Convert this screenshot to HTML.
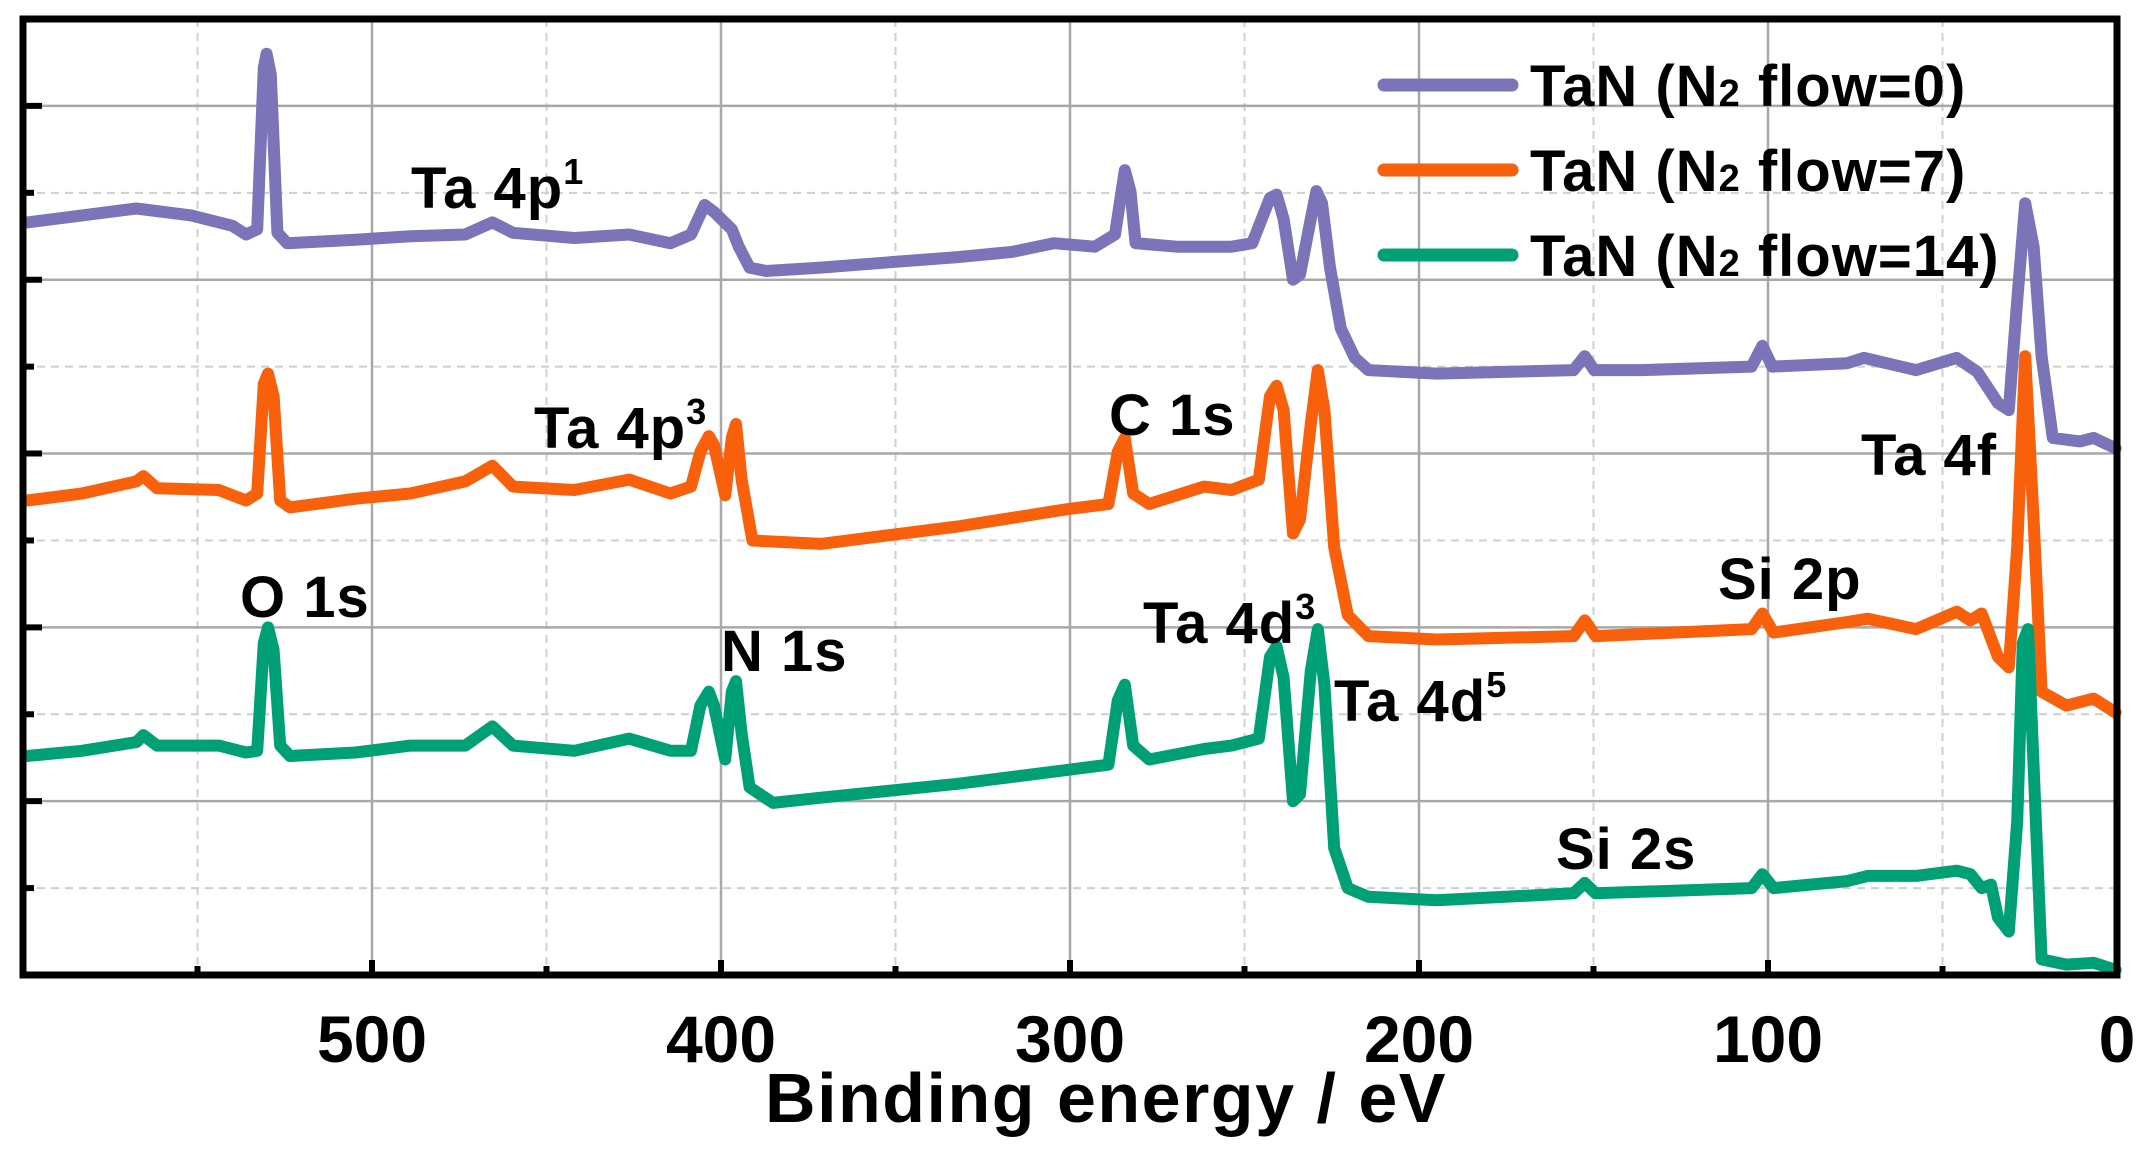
<!DOCTYPE html>
<html><head><meta charset="utf-8"><style>
html,body{margin:0;padding:0;background:#fff;}
svg{display:block;font-family:"Liberation Sans",Arial,sans-serif;font-weight:bold;}
</style></head><body>
<svg id="chart" width="2146" height="1157" viewBox="0 0 2146 1157" xmlns="http://www.w3.org/2000/svg">
<g id="grid"></g>
<g id="series"></g>
<g id="ticks"></g>
<rect x="23" y="19" width="2094" height="956" fill="none" stroke="#000" stroke-width="7"/>
<g id="annot" font-size="58" fill="#000" letter-spacing="1">
<text x="411" y="208">Ta 4p<tspan font-size="36" dy="-24">1</tspan></text>
<text x="534" y="448">Ta 4p<tspan font-size="36" dy="-24">3</tspan></text>
<text x="240" y="617">O 1s</text>
<text x="721" y="671">N 1s</text>
<text x="1109" y="435">C 1s</text>
<text x="1143" y="643">Ta 4d<tspan font-size="36" dy="-24">3</tspan></text>
<text x="1334" y="721">Ta 4d<tspan font-size="36" dy="-24">5</tspan></text>
<text x="1718" y="599">Si 2p</text>
<text x="1556" y="869">Si 2s</text>
<text x="1861" y="475">Ta 4f</text>
</g>
<g id="legend" font-size="58" letter-spacing="1"></g>
<text x="1106" y="1122" font-size="70" letter-spacing="1.5" text-anchor="middle">Binding energy / eV</text>
</svg>
<script>
const xTicks=[500,400,300,200,100,0];
const xMinor=[550,450,350,250,150,50];
const yMajor=[1,2,3,4,5];
const yMinor=[0.5,1.5,2.5,3.5,4.5];
const seriesNames=["TaN (N2 flow=0)","TaN (N2 flow=7)","TaN (N2 flow=14)"];
const e0=[598.8,583.1,567.5,551.8,540.0,536.1,532.9,531.0,530.2,529.0,527.1,524.3,504.7,489.0,473.3,465.5,459.6,442.0,426.3,414.5,408.6,404.7,402.0,396.9,394.9,391.8,387.1,371.4,351.8,332.2,316.5,304.7,292.9,287.1,284.3,282.7,281.2,269.4,253.7,247.8,242.7,240.8,238.8,236.1,234.1,231.0,229.4,227.8,225.5,222.4,218.4,214.5,194.9,175.3,155.7,152.5,149.8,136.1,104.7,101.6,98.8,77.3,72.5,57.6,45.9,40.0,34.1,31.0,28.6,26.3,23.9,21.6,18.4,10.6,6.7,0.4];
const v0=[4.33,4.37,4.41,4.37,4.31,4.26,4.29,5.22,5.30,5.18,4.27,4.21,4.23,4.25,4.26,4.33,4.27,4.24,4.26,4.21,4.26,4.43,4.39,4.29,4.19,4.07,4.05,4.07,4.10,4.13,4.16,4.21,4.19,4.26,4.63,4.51,4.21,4.19,4.19,4.21,4.47,4.49,4.35,4.00,4.03,4.35,4.51,4.44,4.07,3.72,3.55,3.48,3.46,3.47,3.48,3.56,3.48,3.48,3.50,3.62,3.50,3.52,3.55,3.48,3.55,3.47,3.29,3.25,3.88,4.44,4.19,3.56,3.09,3.07,3.09,3.03];
const e7=[598.8,583.1,567.5,565.5,561.6,543.9,536.1,532.9,531.0,529.8,528.2,526.3,523.5,504.7,489.0,473.3,465.5,459.6,442.0,426.3,414.5,408.6,405.9,403.5,402.0,398.8,396.9,395.7,394.1,391.0,371.4,332.2,300.8,289.0,286.3,284.3,281.9,277.3,261.6,253.7,245.9,242.7,240.8,238.8,236.1,234.1,231.0,229.0,227.1,224.3,220.4,214.5,194.9,155.7,152.5,149.4,104.7,101.6,98.4,77.3,71.4,57.6,45.9,42.0,38.8,34.1,31.0,28.6,26.3,23.9,21.6,14.5,6.7,0.4];
const v7=[2.73,2.77,2.84,2.87,2.80,2.79,2.73,2.77,3.40,3.46,3.33,2.73,2.69,2.74,2.77,2.84,2.93,2.81,2.79,2.85,2.77,2.81,3.01,3.10,3.05,2.76,3.09,3.17,2.85,2.50,2.48,2.58,2.68,2.71,3.01,3.09,2.77,2.71,2.81,2.79,2.85,3.33,3.39,3.25,2.54,2.62,3.17,3.48,3.25,2.46,2.07,1.95,1.93,1.95,2.04,1.95,1.99,2.08,1.97,2.03,2.05,1.99,2.09,2.04,2.08,1.83,1.77,2.46,3.56,2.62,1.63,1.55,1.59,1.51];
const e14=[598.8,583.1,567.5,565.5,561.6,543.9,536.1,532.9,531.0,529.8,528.2,526.3,523.5,504.7,489.0,473.3,465.5,459.6,442.0,426.3,414.5,408.6,405.9,403.5,402.0,398.8,396.9,395.7,394.1,391.8,385.1,371.4,332.2,300.8,289.0,286.3,284.3,281.9,277.3,261.6,253.7,245.9,242.7,240.8,238.8,236.1,234.1,231.0,229.0,227.1,224.3,220.4,214.5,194.9,155.7,152.5,149.4,104.7,101.6,98.4,77.3,71.4,57.6,45.9,42.0,38.8,36.1,34.1,31.0,28.6,27.0,25.5,23.9,21.6,14.5,6.7,0.4];
const v14=[1.26,1.29,1.34,1.38,1.32,1.32,1.28,1.29,1.91,2.00,1.87,1.32,1.26,1.28,1.32,1.32,1.43,1.32,1.29,1.36,1.29,1.29,1.55,1.63,1.55,1.24,1.63,1.69,1.39,1.08,0.99,1.02,1.10,1.18,1.21,1.58,1.67,1.32,1.24,1.30,1.32,1.36,1.83,1.89,1.71,1.00,1.04,1.75,1.99,1.67,0.73,0.50,0.45,0.43,0.47,0.53,0.47,0.50,0.58,0.50,0.54,0.57,0.57,0.60,0.58,0.50,0.52,0.33,0.25,0.88,1.91,1.99,1.20,0.09,0.06,0.07,0.03];
const colors=["#7b74b8","#f8600c","#00a077"];

const NS="http://www.w3.org/2000/svg";
const L=23,R=2117,T=19,B=975,XMAX=600,YMAX=5.5;
function xs(e){return R-(e/XMAX)*(R-L);}
function ys(v){return B-(v/YMAX)*(B-T);}
function mk(tag,attrs,parent){const el=document.createElementNS(NS,tag);for(const k in attrs)el.setAttribute(k,attrs[k]);parent.appendChild(el);return el;}
const grid=document.getElementById('grid'),ticks=document.getElementById('ticks'),ser=document.getElementById('series'),leg=document.getElementById('legend');

xTicks.forEach(t=>{const x=xs(t);
 if(t>0&&t<600){const g=mk('line',{x1:x,x2:x,y1:T,y2:B,stroke:'#a8a8a8','stroke-width':2.5},grid);
 
 }
 const tk=mk('line',{x1:x,x2:x,y1:B,y2:B-15,stroke:'#000','stroke-width':6},ticks);
 
 
 const lb=mk('text',{x:x,y:1062,'font-size':66,'text-anchor':'middle'},ticks);
 lb.textContent=t;
 
 
});
xMinor.forEach(t=>{const x=xs(t);
 const g=mk('line',{x1:x,x2:x,y1:T,y2:B,stroke:'#cfcfcf','stroke-width':2,'stroke-dasharray':'8,6'},grid);
 
 
 const tk=mk('line',{x1:x,x2:x,y1:B,y2:B-9,stroke:'#000','stroke-width':6},ticks);
 
 
});
yMajor.forEach(t=>{const y=ys(t);
 const g=mk('line',{x1:L,x2:R,y1:y,y2:y,stroke:'#a8a8a8','stroke-width':2.5},grid);
 
 
 const tk=mk('line',{x1:L,x2:L+19,y1:y,y2:y,stroke:'#000','stroke-width':6},ticks);
 
 
});
yMinor.forEach(t=>{const y=ys(t);
 const g=mk('line',{x1:L,x2:R,y1:y,y2:y,stroke:'#cfcfcf','stroke-width':2,'stroke-dasharray':'8,6'},grid);
 
 
 const tk=mk('line',{x1:L,x2:L+11,y1:y,y2:y,stroke:'#000','stroke-width':6},ticks);
 
 
});

const data=[[e0,v0],[e7,v7],[e14,v14]];
const ids=['series-n2-0','series-n2-7','series-n2-14'];
data.forEach((d,i)=>{
 const pts=d[0].map((e,j)=>xs(e).toFixed(1)+','+ys(d[1][j]).toFixed(1));
 const p=mk('path',{d:'M'+pts.join('L'),fill:'none',stroke:colors[i],'stroke-width':12,'stroke-linejoin':'round','stroke-linecap':'round'},ser);
 
 
});

const legY=[85,170,255];
seriesNames.forEach((n,i)=>{
 const ln=mk('line',{x1:1384,x2:1512,y1:legY[i],y2:legY[i],stroke:colors[i],'stroke-width':13,'stroke-linecap':'round'},leg);
 
 
 const tx=mk('text',{x:1530,y:legY[i]+21},leg);
 
 
 const parts=n.split('N2');
 const a=mk('tspan',{},tx);a.textContent=parts[0]+'N';
 const b=mk('tspan',{'font-size':38},tx);b.textContent='2';
 const c=mk('tspan',{},tx);c.textContent=parts[1];
});
</script>
</body></html>
